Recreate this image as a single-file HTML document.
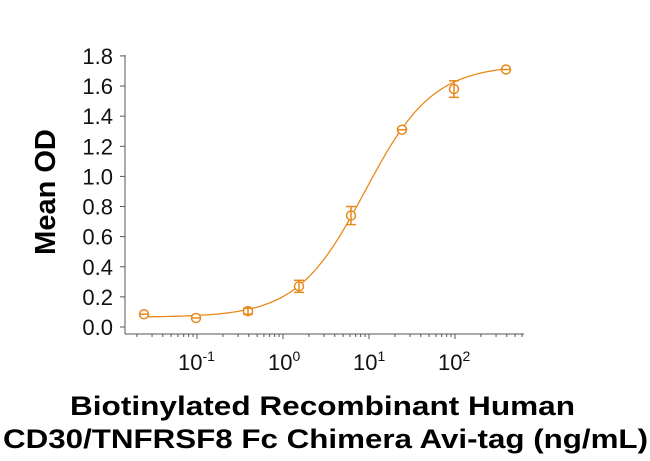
<!DOCTYPE html>
<html><head><meta charset="utf-8"><style>body{margin:0;background:#fff}svg{display:block}</style></head>
<body>
<svg id="s" width="650" height="461" xmlns="http://www.w3.org/2000/svg" font-family="Liberation Sans, sans-serif">
<g stroke="#555" stroke-width="1" fill="none" id="ax">
<line x1="125" y1="55" x2="125" y2="334"/>
<line x1="125" y1="334" x2="524" y2="334"/>
</g>
<g font-size="22" fill="#111" text-anchor="end" id="yl"></g>
<g font-size="22" fill="#111" id="xl">
<text x="178" y="370">10<tspan font-size="14" dy="-9">-1</tspan></text>
<text x="268" y="370">10<tspan font-size="14" dy="-9">0</tspan></text>
<text x="353" y="370">10<tspan font-size="14" dy="-9">1</tspan></text>
<text x="438" y="370">10<tspan font-size="14" dy="-9">2</tspan></text>
</g>
<text transform="translate(55,192) rotate(-90)" font-size="29" font-weight="bold" text-anchor="middle" fill="#000">Mean OD</text>
<text x="70" y="415" font-size="27" font-weight="bold" textLength="505" lengthAdjust="spacingAndGlyphs" fill="#000">Biotinylated Recombinant  Human</text>
<text x="3" y="448" font-size="27" font-weight="bold" textLength="645" lengthAdjust="spacingAndGlyphs" fill="#000">CD30/TNFRSF8 Fc Chimera Avi-tag (ng/mL)</text>
<g id="d" stroke="#E8891C" stroke-width="1.5" fill="none"></g>
</svg>
<script>
var NS="http://www.w3.org/2000/svg";
function el(p,t,a){var e=document.createElementNS(NS,t);for(var k in a)e.setAttribute(k,a[k]);document.getElementById(p).appendChild(e);return e;}
function X(c){return 283+86*Math.log10(c);}
function Y(v){return 327-150.6*v;}
for(var i=0;i<=9;i++){var v=i*0.2,y=Y(v);el("ax","line",{x1:120,y1:y,x2:125,y2:y});var t=el("yl","text",{x:113,y:y+8});t.textContent=v.toFixed(1);}
for(var d=-2;d<=2;d++)for(var m=1;m<=9;m++){var c=m*Math.pow(10,d),x=X(c);if(x<128||x>524)continue;el("ax","line",{x1:x,y1:334,x2:x,y2:m==1?339:337});}
var pts="";for(var l=-1.6;l<=2.62;l+=0.02){var c=Math.pow(10,l);var v=0.065+1.675/(1+Math.pow(9/c,1.1));pts+=(pts?"L":"M")+X(c).toFixed(1)+","+Y(v).toFixed(1);}
el("d","path",{d:pts,"stroke-width":1.3});
var D=[[144,0.085,0.01],[196,0.06,0.015],[248,0.105,0.02],[299,0.27,0.04],[351,0.74,0.06],[402,1.31,0.01],[454,1.58,0.055],[506,1.71,0.005]];
D.forEach(function(p){var x=p[0],y=Y(p[1]),e=p[2]*150.6;
el("d","circle",{cx:x,cy:y,r:4.5,fill:"#fff"});
if(e>3){el("d","line",{x1:x,y1:y-e,x2:x,y2:y+e});el("d","line",{x1:x-5,y1:y-e,x2:x+5,y2:y-e});el("d","line",{x1:x-5,y1:y+e,x2:x+5,y2:y+e});}
else{el("d","line",{x1:x-5,y1:y,x2:x+5,y2:y});}
});
</script>
</body></html>
